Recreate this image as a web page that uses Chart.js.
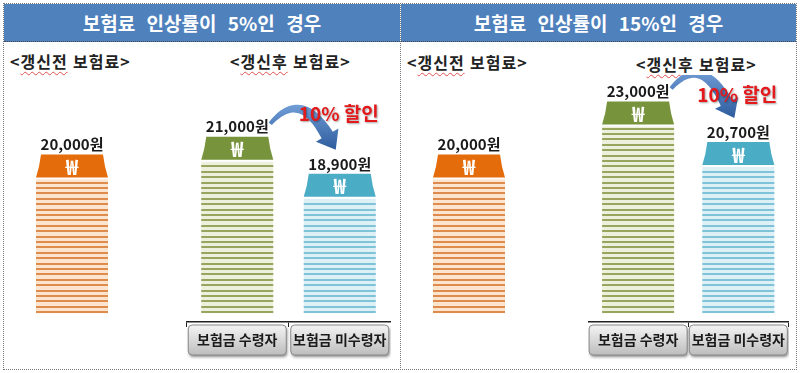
<!DOCTYPE html>
<html lang="ko">
<head>
<meta charset="utf-8">
<script src="https://cdn.jsdelivr.net/npm/chart.js@4.4.1/dist/chart.umd.min.js"></script>
<style>
  html, body { margin: 0; padding: 0; background: #fff; }
  body { width: 800px; height: 373px; position: relative; overflow: hidden;
         font-family: "Noto Sans CJK KR", "Noto Sans", sans-serif; }
  .panel { position: absolute; top: 3px; height: 367px; border: 1px dotted #777; box-sizing: border-box; }
  .head { position: absolute; left: 0; top: 0; right: 0; height: 37px; background: #4F81BD;
          border-bottom: 1px dotted #445; color: #fff; font-weight: bold; font-size: 19px;
          text-align: center; line-height: 38px; word-spacing: 6px; }
  .sub { position: absolute; font-weight: bold; font-size: 16px; line-height: 20px; color: #222;
         white-space: pre; letter-spacing: 1px; }
  .sub u { text-decoration: underline wavy #e05050 1px; text-underline-offset: 3px; }
  canvas { position: absolute; }
</style>
</head>
<body>
<script>
const family = '"Noto Sans CJK KR", "Noto Sans", sans-serif';

// data
const scenarioTitles = ['보험료 인상률이 5%인 경우', '보험료 인상률이 15%인 경우'];
const beforeCategory = ['갱신전'];
const afterCategories = ['보험금 수령자', '보험금 미수령자'];
const beforePremium = [20000, 20000];
const receiverPremium = [21000, 23000];
const nonReceiverPremium = [18900, 20700];
const discountText = '10% 할인';

// layout of each panel (page pixels)
const panels = [
  { left: 3, width: 398, beforeX: 4, afterX: 186, afterW: 205, subY: [51, 51], afterSubX: 230, textDY: -60 },
  { left: 400, width: 397, beforeX: 401, afterX: 588, afterW: 201, subY: [52, 54], afterSubX: 636, textDY: -47 }
];
const chartTop = 75, chartH = 287;

const styles = {
  before: { cap: '#E46C0A', line: '#DE8C4E', fill: '#FDE4CE' },
  receiver: { cap: '#77933C', line: '#98A55F', fill: '#ECF0DC' },
  nonReceiver: { cap: '#4BACC6', line: '#7EC3D7', fill: '#DDF0F6' }
};

const ingotPlugin = {
  id: 'ingot',
  beforeDraw(chart, args, opts) {
    if (!opts.buttons) return;
    const ctx = chart.ctx, xs = chart.scales.x;
    const y0 = chart.chartArea.bottom + 3;
    xs.ticks.forEach((t, i) => {
      const cx = xs.getPixelForTick(i);
      const bx = cx - 49, bw = 98, bh = 30;
      ctx.save();
      ctx.shadowColor = 'rgba(0,0,0,0.45)';
      ctx.shadowBlur = 3; ctx.shadowOffsetX = 1; ctx.shadowOffsetY = 2;
      const g = ctx.createLinearGradient(0, y0, 0, y0 + bh);
      g.addColorStop(0, '#F4F4F4');
      g.addColorStop(1, '#BDBDBD');
      ctx.fillStyle = g;
      ctx.beginPath();
      ctx.roundRect(bx, y0, bw, bh, 4);
      ctx.fill();
      ctx.shadowColor = 'transparent';
      ctx.strokeStyle = '#8a8a8a';
      ctx.lineWidth = 1;
      ctx.stroke();
      ctx.restore();
    });
  },
  afterDatasetsDraw(chart, args, opts) {
    const ctx = chart.ctx;
    const meta = chart.getDatasetMeta(0);
    const values = chart.data.datasets[0].data;
    meta.data.forEach((bar, i) => {
      const st = opts.styles[i];
      const w = bar.width, x0 = bar.x - w / 2, top = bar.y, base = bar.base;
      const capH = 23;
      ctx.save();
      ctx.fillStyle = st.fill;
      ctx.fillRect(x0, top + capH + 2, w, base - top - capH - 2);
      ctx.fillStyle = st.line;
      for (let y = base - 2; y > top + capH + 2; y -= 5.4) ctx.fillRect(x0, Math.round(y), w, 2);
      ctx.beginPath();
      ctx.moveTo(x0 + 5, top);
      ctx.lineTo(x0 + w - 5, top);
      ctx.lineTo(x0 + w - 3, top + 12);
      ctx.lineTo(x0 + w, top + capH);
      ctx.lineTo(x0, top + capH);
      ctx.lineTo(x0 + 3, top + 12);
      ctx.closePath();
      ctx.fillStyle = st.cap;
      ctx.fill();
      ctx.textAlign = 'center';
      ctx.textBaseline = 'middle';
      ctx.fillStyle = '#fff';
      ctx.font = `bold 21px ${family}`;
      ctx.fillText('₩', bar.x, top + capH / 2 + 1);
      ctx.fillStyle = '#1a1a1a';
      ctx.font = `bold 15px ${family}`;
      ctx.fillText(values[i].toLocaleString('en-US') + '원', bar.x, top - 10);
      ctx.restore();
    });
    if (opts.arrow) drawDiscount(ctx, meta.data[0], meta.data[1], opts.textDY);
  }
};

function drawDiscount(ctx, g, b, textDY) {
  const p0 = { x: g.x + 33, y: g.y - 13 };
  const tip = { x: b.x - 4, y: b.y - 24 };
  const c = { x: p0.x + 30, y: Math.min(p0.y, tip.y) - 35 };
  // body ends where the head starts
  const dx = tip.x - c.x, dy = tip.y - c.y;
  const len = Math.hypot(dx, dy);
  const ux = dx / len, uy = dy / len;
  const headLen = 17;
  const p2 = { x: tip.x - ux * headLen, y: tip.y - uy * headLen };
  const left = [], right = [];
  const n = 30;
  for (let k = 0; k <= n; k++) {
    const t = k / n, mt = 1 - t;
    const x = mt * mt * p0.x + 2 * mt * t * c.x + t * t * p2.x;
    const y = mt * mt * p0.y + 2 * mt * t * c.y + t * t * p2.y;
    const tx = 2 * mt * (c.x - p0.x) + 2 * t * (p2.x - c.x);
    const ty = 2 * mt * (c.y - p0.y) + 2 * t * (p2.y - c.y);
    const tl = Math.hypot(tx, ty);
    const nx = -ty / tl, ny = tx / tl;
    const hw = 2 + 4.5 * t;
    left.push([x + nx * hw, y + ny * hw]);
    right.push([x - nx * hw, y - ny * hw]);
  }
  ctx.save();
  const grad = ctx.createLinearGradient(0, Math.min(p0.y, tip.y) - 25, 0, tip.y);
  grad.addColorStop(0, '#7AA6DD');
  grad.addColorStop(1, '#2D5C9E');
  ctx.fillStyle = grad;
  ctx.beginPath();
  ctx.moveTo(left[0][0], left[0][1]);
  left.forEach(p => ctx.lineTo(p[0], p[1]));
  const nx = -uy, ny = ux;
  ctx.lineTo(p2.x + nx * 13, p2.y + ny * 13);
  ctx.lineTo(tip.x, tip.y);
  ctx.lineTo(p2.x - nx * 13, p2.y - ny * 13);
  right.reverse().forEach(p => ctx.lineTo(p[0], p[1]));
  ctx.closePath();
  ctx.fill();
  ctx.font = `bold 19px ${family}`;
  ctx.textAlign = 'center';
  ctx.textBaseline = 'middle';
  ctx.shadowColor = 'rgba(0,0,0,0.35)';
  ctx.shadowBlur = 2;
  ctx.shadowOffsetX = 1;
  ctx.shadowOffsetY = 1;
  ctx.fillStyle = '#E3191B';
  ctx.fillText(discountText, b.x - 1, b.y + textDY);
  ctx.restore();
}

function addCanvas(x, w) {
  const cv = document.createElement('canvas');
  cv.width = w; cv.height = chartH;
  cv.style.left = x + 'px';
  cv.style.top = chartTop + 'px';
  document.body.appendChild(cv);
  return cv;
}

function yScale() {
  return { display: false, min: 10500, max: 24500 };
}

panels.forEach((p, i) => {
  const panel = document.createElement('div');
  panel.className = 'panel';
  panel.style.left = p.left + 'px';
  panel.style.width = p.width + 'px';
  panel.innerHTML = `<div class="head">${scenarioTitles[i]}</div>`;
  document.body.appendChild(panel);

  const s1 = document.createElement('div');
  s1.className = 'sub';
  s1.style.left = (p.left + 7) + 'px';
  s1.style.top = p.subY[0] + 'px';
  s1.innerHTML = '&lt;<u>갱신전</u> 보험료&gt;';
  document.body.appendChild(s1);
  const s2 = document.createElement('div');
  s2.className = 'sub';
  s2.style.left = p.afterSubX + 'px';
  s2.style.top = p.subY[1] + 'px';
  s2.innerHTML = '&lt;<u>갱신후</u> 보험료&gt;';
  document.body.appendChild(s2);

  new Chart(addCanvas(p.beforeX, 136), {
    type: 'bar',
    data: {
      labels: beforeCategory,
      datasets: [{ data: [beforePremium[i]], base: 11000, barThickness: 72, backgroundColor: 'rgba(0,0,0,0)' }]
    },
    options: {
      responsive: false, animation: false,
      layout: { padding: { bottom: 40 } },
      plugins: { legend: { display: false }, tooltip: { enabled: false },
                 ingot: { styles: [styles.before] } },
      scales: { x: { display: false }, y: yScale() }
    },
    plugins: [ingotPlugin]
  });

  new Chart(addCanvas(p.afterX, p.afterW), {
    type: 'bar',
    data: {
      labels: afterCategories,
      datasets: [{ data: [receiverPremium[i], nonReceiverPremium[i]], base: 11000, barThickness: 72,
                   backgroundColor: 'rgba(0,0,0,0)' }]
    },
    options: {
      responsive: false, animation: false,
      layout: { padding: 0 },
      plugins: { legend: { display: false }, tooltip: { enabled: false },
                 ingot: { styles: [styles.receiver, styles.nonReceiver], arrow: true, buttons: true, textDY: p.textDY } },
      scales: {
        x: {
          offset: true,
          border: { display: true, color: '#222', width: 1.5 },
          grid: { display: true, drawOnChartArea: false, drawTicks: true, tickLength: 5, color: '#222', offset: true },
          ticks: { font: { family: family, size: 14, weight: 'bold' }, color: '#1a1a1a', padding: 4,
                   maxRotation: 0, autoSkip: false },
          afterFit: s => { s.height = 40; }
        },
        y: yScale()
      }
    },
    plugins: [ingotPlugin]
  });
});
</script>
</body>
</html>
